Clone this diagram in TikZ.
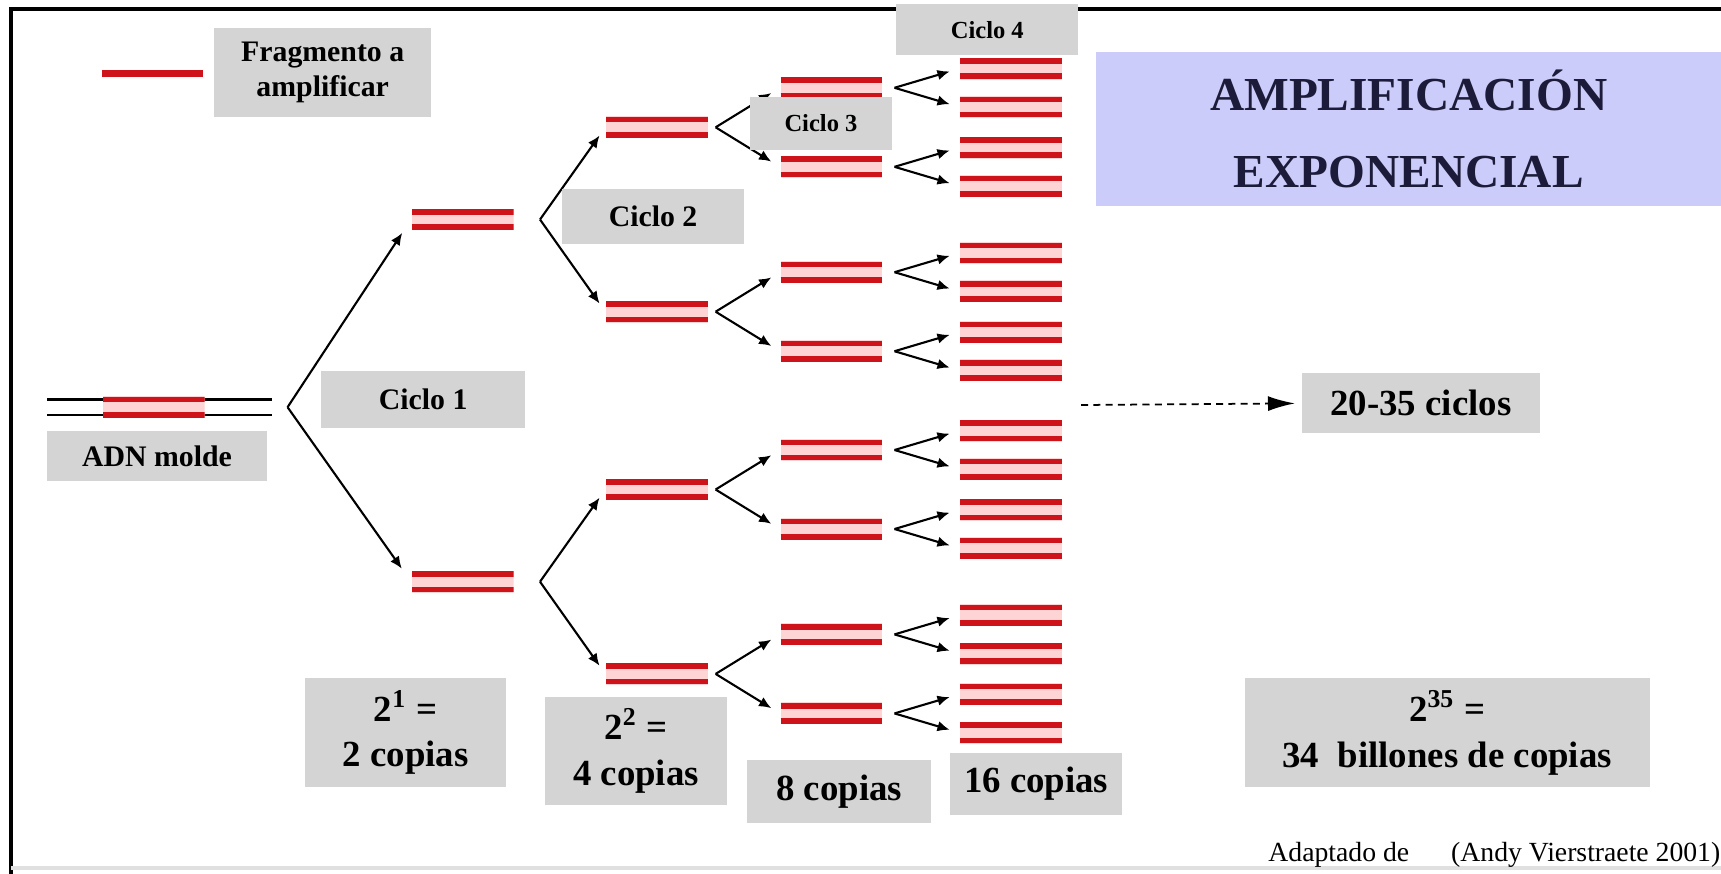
\documentclass[tikz,border=0pt]{standalone}
\usepackage{fontspec}
\setmainfont{Liberation Serif}
\usetikzlibrary{arrows.meta}

\definecolor{boxgray}{RGB}{212,212,212}
\definecolor{titleblue}{RGB}{204,204,250}
\definecolor{titleink}{RGB}{28,28,58}
\definecolor{dnared}{RGB}{206,20,26}
\definecolor{dnapink}{RGB}{255,212,212}

\tikzset{
  cyclebox/.style={fill=boxgray,inner sep=0pt,align=center,font=\bfseries\fontsize{8.5}{10}\selectfont},
  copiesbox/.style={cyclebox,font=\bfseries\fontsize{10.5}{13}\selectfont},
  dna/.style={minimum width=1.02cm,minimum height=0.22cm,inner sep=0pt,
    path picture={
      \fill[dnapink] (path picture bounding box.south west) rectangle (path picture bounding box.north east);
      \foreach \dy in {0.077cm,-0.077cm}
        \draw[dnared,line width=1.6pt] ([yshift=\dy]path picture bounding box.west) -- ([yshift=\dy]path picture bounding box.east);
    }},
  copyarrow/.style={-{Latex[length=3.5pt,width=3pt]},line width=0.6pt,shorten >=0.1cm},
}

\begin{document}
\begin{tikzpicture}[x=0.011cm,y=-0.011cm]
  \useasboundingbox[fill=white] (0,0) rectangle (1568,796);
  % frame
  \draw[line width=1.1pt] (10,796) -- (10,8) -- (1568,8);
  \draw[black!12,line width=1pt] (10,791) -- (1568,791);

  % legend
  \draw[dnared,line width=1.8pt] (93,67) -- (185,67);
  \node[cyclebox,minimum width=2.18cm,minimum height=0.9cm] (frag) at (294,66) {Fragmento a\\amplificar};

  % template DNA
  \draw[line width=0.6pt] (43,364) -- (248,364) (43,378) -- (248,378);
  \node[dna] (molde) at (140,371) {};
  \node[cyclebox,minimum width=2.2cm,minimum height=0.5cm] (adn) at (143,415.5) {ADN molde};

  % cycle 1
  \coordinate (v0) at (262,371);
  \node[dna] (g1a) at (421.5,200) {};
  \node[dna] (g1b) at (421.5,530) {};
  \draw[copyarrow,shorten >=0.16cm] (v0) -- (g1a.west);
  \draw[copyarrow,shorten >=0.16cm] (v0) -- (g1b.west);

  % cycle 2
  \coordinate (v1a) at (492,200);
  \coordinate (v1b) at (492,530);
  \node[dna] (g2a) at (598.5,116) {};
  \node[dna] (g2b) at (598.5,284) {};
  \node[dna] (g2c) at (598.5,446) {};
  \node[dna] (g2d) at (598.5,614) {};
  \draw[copyarrow] (v1a) -- (g2a.west);
  \draw[copyarrow] (v1a) -- (g2b.west);
  \draw[copyarrow] (v1b) -- (g2c.west);
  \draw[copyarrow] (v1b) -- (g2d.west);

  % cycles 3 and 4
  \foreach \n/\y in {a/116,b/284,c/446,d/614}{
    \coordinate (v2\n) at (652,\y);
    \foreach \s/\t in {u/-36,d/36}{
      \node[dna] (g3\n\s) at (757.5,{\y+(\t)}) {};
      \draw[copyarrow] (v2\n) -- (g3\n\s.west);
      \coordinate (v3\n\s) at (815,{\y+(\t)});
      \foreach \r/\q in {u/-17.5,d/17.5}{
        \node[dna] (g4\n\s\r) at (921,{\y+(\t)+(\q)}) {};
        \draw[copyarrow] (v3\n\s) -- (g4\n\s\r.west);
      }
    }
  }

  % cycle labels
  \node[cyclebox,minimum width=2.04cm,minimum height=0.57cm] (c1) at (385.5,364) {Ciclo 1};
  \node[cyclebox,minimum width=1.83cm,minimum height=0.55cm] (c2) at (595,197) {Ciclo 2};
  \node[cyclebox,minimum width=1.43cm,minimum height=0.54cm,font=\bfseries\fontsize{7}{8}\selectfont] (c3) at (748,112.5) {Ciclo 3};
  \node[cyclebox,minimum width=1.82cm,minimum height=0.51cm,font=\bfseries\fontsize{7}{8}\selectfont] (c4) at (899.5,27) {Ciclo 4};

  % title
  \node[fill=titleblue,minimum width=6.26cm,minimum height=1.55cm,inner sep=0pt,align=center,text=titleink,font=\bfseries\fontsize{13.5}{21.8}\selectfont] (title) at (1283.5,117.5) {AMPLIFICACIÓN\\EXPONENCIAL};

  % more cycles
  \coordinate (dstart) at (985,369);
  \node[copiesbox,minimum width=2.39cm,minimum height=0.6cm] (ciclos) at (1294.5,367.5) {20-35 ciclos};
  \draw[dashed,dash pattern=on 2pt off 1.5pt,line width=0.5pt,-{Latex[length=0.27cm,width=0.15cm]},shorten >=0.06cm] (dstart) -- (ciclos.west);

  % copy counts
  \node[copiesbox,minimum width=2.01cm,minimum height=1.09cm] (pot1) at (369.5,667.5) {2\textsuperscript{1} =\\2 copias};
  \node[copiesbox,minimum width=1.82cm,minimum height=1.08cm] (pot2) at (579.5,684) {2\textsuperscript{2} =\\4 copias};
  \node[copiesbox,minimum width=1.84cm,minimum height=0.63cm] (pot3) at (764.5,721.5) {8 copias};
  \node[copiesbox,minimum width=1.72cm,minimum height=0.62cm] (pot4) at (944,714) {16 copias};
  \node[copiesbox,minimum width=4.06cm,minimum height=1.09cm] (pot35) at (1318.5,667.5) {2\textsuperscript{35} =\\34\ \ billones de copias};

  % source
  \node[anchor=west,inner sep=0pt,font=\fontsize{7.9}{9}\selectfont] (src1) at (1155,779) {Adaptado de};
  \node[anchor=east,inner sep=0pt,font=\fontsize{7.9}{9}\selectfont] (src2) at (1568,779) {(Andy Vierstraete 2001)};
\end{tikzpicture}
\end{document}
